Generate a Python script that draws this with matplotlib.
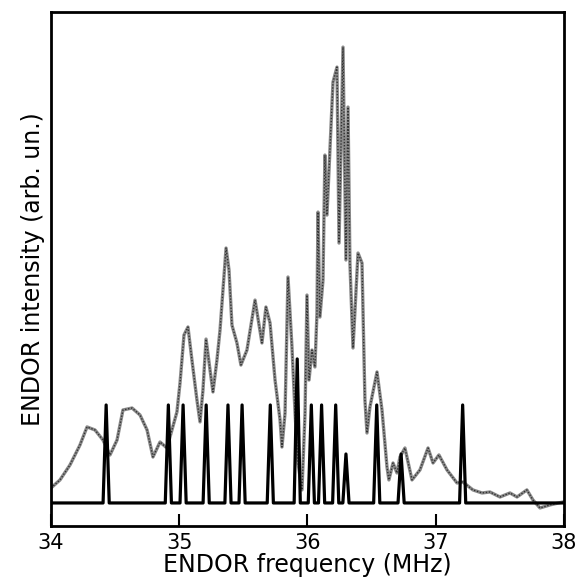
import numpy as np
import matplotlib
matplotlib.use('Agg')
import matplotlib.pyplot as plt

# experimental ENDOR trace (MHz, arb. units; baseline = 0, stick height = 1)
exp_freq = [
    34.000, 34.070, 34.148, 34.226, 34.281, 34.343, 34.405, 34.460, 34.515, 34.561,
    34.632, 34.694, 34.749, 34.795, 34.850, 34.904, 34.943, 34.982, 35.006, 35.037,
    35.068, 35.099, 35.138, 35.162, 35.185, 35.209, 35.240, 35.263, 35.294, 35.318,
    35.365, 35.388, 35.411, 35.450, 35.481, 35.528, 35.591, 35.645, 35.676, 35.708,
    35.747, 35.786, 35.801, 35.825, 35.848, 35.879, 35.903, 35.926, 35.957, 35.981,
    35.996, 36.012, 36.035, 36.058, 36.074, 36.082, 36.097, 36.121, 36.136, 36.152,
    36.199, 36.230, 36.246, 36.277, 36.300, 36.316, 36.331, 36.355, 36.394, 36.425,
    36.448, 36.464, 36.487, 36.542, 36.581, 36.620, 36.635, 36.667, 36.698, 36.721,
    36.760, 36.815, 36.877, 36.940, 36.979, 37.025, 37.088, 37.166, 37.212, 37.290,
    37.361, 37.423, 37.501, 37.579, 37.634, 37.711, 37.758, 37.813, 37.891, 37.992,
]
exp_intensity = [
    0.153, 0.235, 0.388, 0.592, 0.776, 0.745, 0.643, 0.490, 0.643, 0.949,
    0.969, 0.898, 0.745, 0.469, 0.622, 0.561, 0.745, 0.929, 1.224, 1.714,
    1.796, 1.459, 1.051, 0.827, 1.153, 1.673, 1.357, 1.133, 1.459, 1.765,
    2.602, 2.378, 1.816, 1.633, 1.408, 1.561, 2.071, 1.633, 2.000, 1.837,
    1.255, 0.847, 0.571, 0.918, 2.306, 1.592, 0.918, 0.408, 0.133, 0.918,
    2.122, 1.255, 1.561, 1.388, 1.939, 2.969, 1.898, 2.276, 3.551, 2.939,
    4.296, 4.449, 2.653, 4.653, 2.480, 4.041, 2.449, 1.582, 2.551, 2.449,
    1.051, 0.714, 0.980, 1.337, 0.949, 0.367, 0.235, 0.408, 0.306, 0.469,
    0.561, 0.235, 0.337, 0.561, 0.408, 0.490, 0.337, 0.204, 0.214, 0.133,
    0.102, 0.112, 0.061, 0.102, 0.061, 0.133, 0.031, -0.051, -0.020, 0.010,
]

# simulated stick spectrum
stick_freq = [34.43, 34.915, 35.03, 35.21, 35.38, 35.49, 35.71, 35.92,
              36.03, 36.11, 36.22, 36.30, 36.54, 36.73, 37.21]
stick_height = [1.0, 1.0, 1.0, 1.0, 1.0, 1.0, 1.0, 1.47,
                1.0, 1.0, 1.0, 0.5, 1.0, 0.5, 1.0]

STICK_HALF_WIDTH = 0.024
LABEL_SIZE = 17


def stick_trace(freqs, heights):
    xs = [34.0]
    ys = [0.0]
    for f, h in zip(freqs, heights):
        xs += [f - STICK_HALF_WIDTH, f, f + STICK_HALF_WIDTH]
        ys += [0.0, h, 0.0]
    xs.append(38.0)
    ys.append(0.0)
    return np.array(xs), np.array(ys)


fig = plt.figure(figsize=(5.77, 5.78), dpi=100)
ax = fig.add_axes([0.0884, 0.090, 0.889, 0.889])

# noisy-looking grey trace: grey band with a speckled dotted overlay
ax.plot(exp_freq, exp_intensity, color='#8a8a8a', linewidth=2.4, zorder=2)
ax.plot(exp_freq, exp_intensity, color='#333333', linewidth=1.0,
        linestyle=(0, (1, 1.2)), zorder=2)
sx, sy = stick_trace(stick_freq, stick_height)
ax.plot(sx, sy, color='black', linewidth=2.3, zorder=3)

ax.set_xlim(34, 38)
ax.set_ylim(-0.235, 5.01)
ax.set_xticks([34, 35, 36, 37, 38])
ax.set_yticks([])
ax.tick_params(axis='x', direction='in', length=9, width=1.5, labelsize=15, pad=5)
for label in ax.get_xticklabels():
    label.set_fontweight('medium')
for spine in ax.spines.values():
    spine.set_linewidth(2.0)

ax.set_xlabel('ENDOR frequency (MHz)', fontsize=LABEL_SIZE, labelpad=0)
ax.set_ylabel('ENDOR intensity (arb. un.)', fontsize=LABEL_SIZE, labelpad=4)

fig.savefig('out.png', dpi=100)
